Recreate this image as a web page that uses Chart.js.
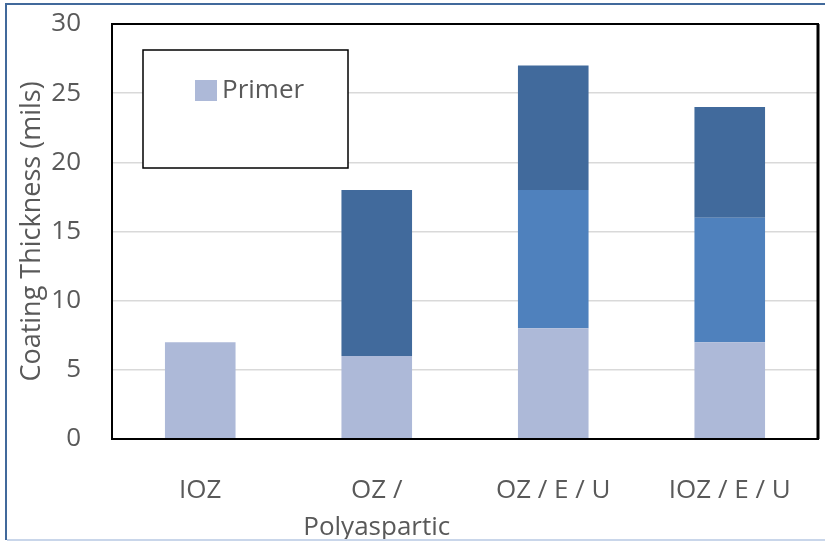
<!DOCTYPE html>
<html>
<head>
<meta charset="utf-8">
<script src="https://cdn.jsdelivr.net/npm/chart.js@4/dist/chart.umd.min.js"></script>
<style>
  html, body { margin: 0; padding: 0; background: #fff; }
  #wrap { width: 825px; height: 541px; position: relative; }
</style>
</head>
<body>
<div id="wrap"><canvas id="coating-chart" width="825" height="541"></canvas></div>
<script>
const systems = [['IOZ'], ['OZ /', 'Polyaspartic'], ['OZ / E / U'], ['IOZ / E / U']]
const primer = [7, 6, 8, 7]
const intermediate = [0, 0, 10, 9]
const topcoat = [0, 12, 9, 8]
const yTicks = [0, 5, 10, 15, 20, 25, 30]

const textColor = '#595959'
const fontFamily = '"Open Sans", "Noto Sans", sans-serif'

// outer frame, black plot box and the boxed legend
const decorations = {
  id: 'decorations',
  afterDraw(chart) {
    const ctx = chart.ctx
    const area = chart.chartArea
    ctx.save()

    ctx.strokeStyle = '#000'
    ctx.lineWidth = 2
    ctx.strokeRect(area.left, area.top, area.right - area.left, area.bottom - area.top)
    ctx.lineWidth = 3
    ctx.beginPath()
    ctx.moveTo(area.right, area.top)
    ctx.lineTo(area.right, area.bottom)
    ctx.stroke()

    ctx.strokeStyle = '#41699b'
    ctx.lineWidth = 2
    ctx.beginPath()
    ctx.moveTo(6, 540)
    ctx.lineTo(6, 4)
    ctx.lineTo(825, 4)
    ctx.stroke()
    ctx.strokeStyle = '#c9d6ea'
    ctx.beginPath()
    ctx.moveTo(7, 540)
    ctx.lineTo(825, 540)
    ctx.stroke()

    const bx = area.left + 31
    const by = area.top + 26
    ctx.fillStyle = '#fff'
    ctx.fillRect(bx, by, 205, 118)
    ctx.strokeStyle = '#000'
    ctx.lineWidth = 1.5
    ctx.strokeRect(bx, by, 205, 118)

    ctx.fillStyle = chart.data.datasets[0].backgroundColor
    ctx.fillRect(bx + 52, by + 30, 22, 21)
    ctx.fillStyle = textColor
    ctx.font = '26px ' + fontFamily
    ctx.textBaseline = 'middle'
    ctx.fillText(chart.data.datasets[0].label, bx + 79, by + 41)
    ctx.restore()
  }
}

new Chart(document.getElementById('coating-chart'), {
  type: 'bar',
  data: {
    labels: systems,
    datasets: [
      { label: 'Primer', data: primer, backgroundColor: '#adb9d8' },
      { label: 'Intermediate', data: intermediate, backgroundColor: '#4f81bd' },
      { label: 'Topcoat', data: topcoat, backgroundColor: '#416a9c' }
    ]
  },
  options: {
    responsive: false,
    animation: false,
    devicePixelRatio: 1,
    datasets: {
      bar: { categoryPercentage: 1, barPercentage: 0.4 }
    },
    layout: { padding: { left: 16, right: 7, top: 24, bottom: 0 } },
    plugins: {
      legend: { display: false },
      tooltip: { enabled: false }
    },
    scales: {
      x: {
        stacked: true,
        afterFit(axis) {
          axis.height = 102
          axis.paddingLeft = 0
          axis.paddingRight = 0
        },
        grid: { display: false },
        border: { display: false },
        ticks: {
          color: textColor,
          padding: 25,
          maxRotation: 0,
          font: { family: fontFamily, size: 26, lineHeight: 1.42 }
        }
      },
      y: {
        stacked: true,
        min: 0,
        max: 30,
        afterBuildTicks(axis) {
          axis.ticks = yTicks.map(v => ({ value: v }))
        },
        afterFit(axis) {
          axis.width = 96
          axis.paddingTop = 0
          axis.paddingBottom = 0
        },
        grid: { color: '#d9d9d9', lineWidth: 1.5, drawTicks: false },
        border: { display: false },
        ticks: {
          color: textColor,
          padding: 31,
          font: { family: fontFamily, size: 26 }
        },
        title: {
          display: true,
          text: 'Coating Thickness (mils)',
          color: textColor,
          padding: { top: 0, bottom: 6 },
          font: { family: fontFamily, size: 27 }
        }
      }
    }
  },
  plugins: [decorations]
})
</script>
</body>
</html>
